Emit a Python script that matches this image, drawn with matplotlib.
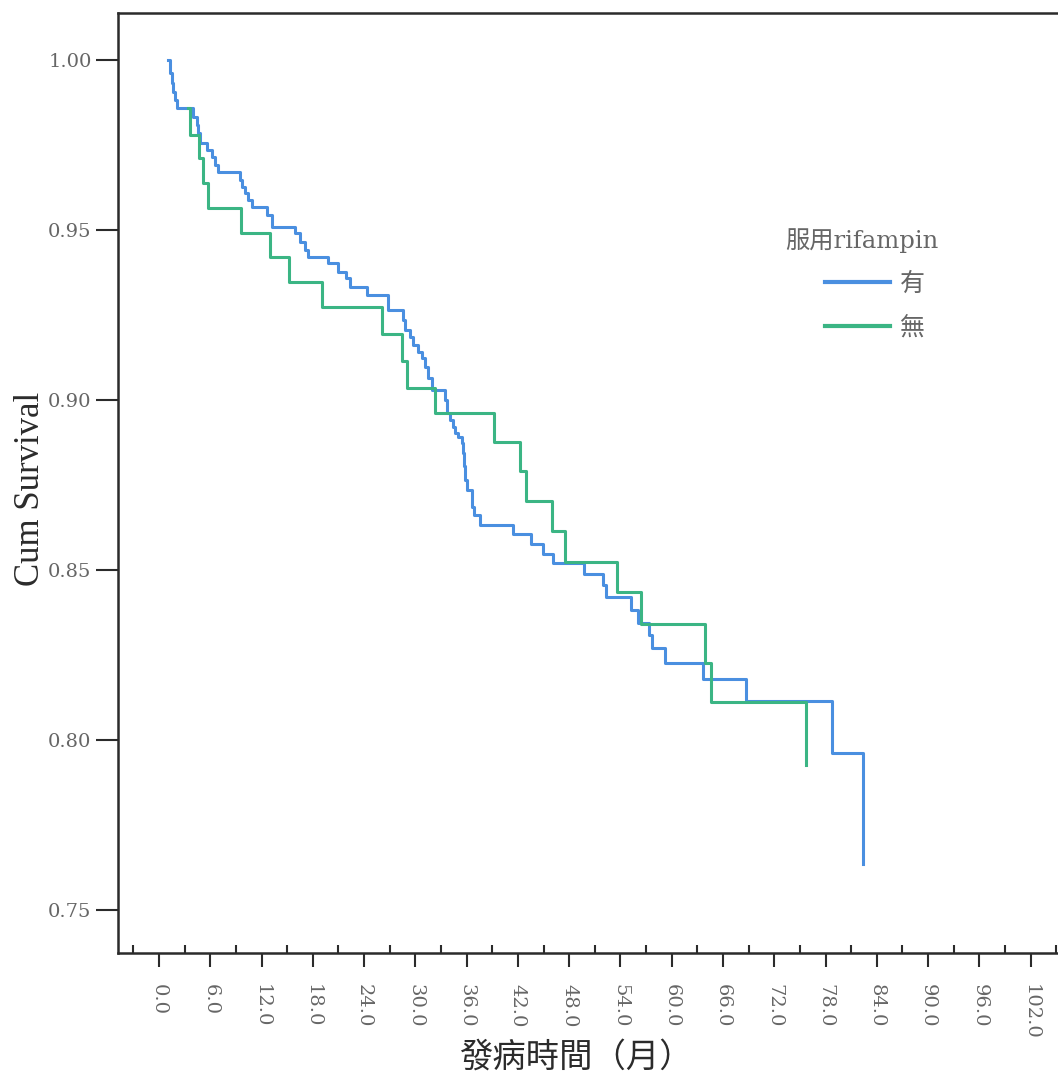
import matplotlib.pyplot as plt
from matplotlib.font_manager import FontProperties

# Kaplan-Meier steps: event time (months) and cumulative survival after the step
rif_yes_t = [1.09, 1.29, 1.49, 1.64, 1.87, 2.11, 4.02, 4.41, 4.60, 4.80, 5.58, 6.17,
             6.56, 6.94, 9.48, 9.68, 10.07, 10.45, 10.85, 12.61, 13.19, 15.92, 16.51,
             17.09, 17.48, 19.82, 20.99, 21.89, 22.36, 24.32, 26.84, 28.60, 28.80,
             29.38, 29.74, 30.36, 30.75, 31.14, 31.53, 31.92, 33.48, 33.68, 34.07,
             34.42, 34.65, 35.04, 35.44, 35.62, 35.71, 35.82, 36.02, 36.61, 36.88,
             37.58, 41.48, 43.51, 44.99, 46.16, 49.75, 52.01, 52.33, 55.22, 56.08,
             57.40, 57.68, 59.24, 63.65, 68.72, 78.75, 82.42]
rif_yes_s = [1.0, 0.9962, 0.9932, 0.9906, 0.9882, 0.9858, 0.9833, 0.9809, 0.9784, 0.9755,
             0.9735, 0.9716, 0.9691, 0.9671, 0.9647, 0.9627, 0.9608, 0.9588, 0.9569,
             0.9544, 0.9510, 0.9490, 0.9466, 0.9441, 0.9421, 0.9402, 0.9377, 0.9359,
             0.9333, 0.9309, 0.9265, 0.9235, 0.9206, 0.9185, 0.9162, 0.9141, 0.9124,
             0.9098, 0.9065, 0.9029, 0.9000, 0.8962, 0.8941, 0.8921, 0.8903, 0.8892,
             0.8874, 0.8844, 0.8806, 0.8765, 0.8735, 0.8686, 0.8662, 0.8632, 0.8606,
             0.8576, 0.8547, 0.8520, 0.8488, 0.8456, 0.8421, 0.8382, 0.8343, 0.8309,
             0.8270, 0.8227, 0.8179, 0.8115, 0.7962, 0.7635]

rif_no_t = [3.40, 3.63, 4.72, 5.19, 5.77, 9.56, 12.99, 15.25, 19.05, 26.07, 28.41, 29.00,
            32.31, 39.25, 42.26, 42.96, 46.04, 47.53, 53.58, 56.43, 63.84, 64.59, 75.74]
rif_no_s = [0.9858, 0.9779, 0.9711, 0.9637, 0.9564, 0.9492, 0.9420, 0.9347, 0.9273,
            0.9193, 0.9115, 0.9034, 0.8961, 0.8877, 0.8792, 0.8704, 0.8616, 0.8524,
            0.8436, 0.8341, 0.8226, 0.8113, 0.7926]

group_labels = ['有', '無']
legend_title = '服用rifampin'
x_label = '發病時間（月）'
y_label = 'Cum Survival'
x_major = list(range(0, 103, 6))
x_minor = list(range(-3, 106, 6))
y_major = [0.75, 0.80, 0.85, 0.90, 0.95, 1.00]

blue = '#4a8fe0'
green = '#3bb584'
ink = '#2b2b2b'
grey = '#666666'
serif = 'Liberation Serif'
wide_serif = 'DejaVu Serif'
cjk = 'Noto Sans CJK TC'

fig = plt.figure(figsize=(10.58, 10.75), dpi=100)
ax = fig.add_axes([118 / 1058, 122 / 1075, 963 / 1058, 940 / 1075])

ax.step(rif_yes_t, rif_yes_s, where='post', color=blue, lw=2.2, label=group_labels[0], zorder=3)
ax.step(rif_no_t, rif_no_s, where='post', color=green, lw=2.2, label=group_labels[1], zorder=4)

ax.set_xlim(-4.8, 107.9)
ax.set_ylim(0.7374, 1.0138)

for side in ['left', 'bottom', 'top']:
    ax.spines[side].set_color(ink)
    ax.spines[side].set_linewidth(1.8)
ax.spines['right'].set_visible(False)

ax.set_xticks(x_major)
ax.set_xticks(x_minor, minor=True)
ax.set_xticklabels([f'{v:.1f}' for v in x_major], rotation=-90,
                   fontfamily=wide_serif, fontsize=14, color=grey)
ax.tick_params(axis='x', which='major', direction='out', length=10, width=1.5,
               color=ink, pad=12)
ax.tick_params(axis='x', which='minor', direction='in', length=6, width=1.5, color=ink)

ax.set_yticks(y_major)
ax.set_yticklabels([f'{v:.2f}' for v in y_major], fontfamily=wide_serif, fontsize=14,
                   color=grey)
ax.tick_params(axis='y', which='major', direction='out', length=16, width=1.5,
               color=ink, pad=3)

ax.set_xlabel(x_label, fontfamily=cjk, fontsize=24, color=ink)
ax.xaxis.set_label_coords(0.475, -0.092)
ax.set_ylabel(y_label, fontfamily=serif, fontsize=25, color=ink)
ax.yaxis.set_label_coords(-0.074, 0.4936)

# legend title set apart from the entries, as SPSS draws it
fig.text(785 / 1058, 1 - 241 / 1075, legend_title, ha='left', va='center', color=grey,
         fontproperties=FontProperties(family=[wide_serif, cjk], size=17.5))

leg = ax.legend(frameon=False, loc='upper left',
                bbox_to_anchor=(825 / 1058, 1 - 271 / 1075), bbox_transform=fig.transFigure,
                prop=FontProperties(family=cjk, size=18),
                handlelength=2.6, handletextpad=0.4, labelspacing=0.7, borderpad=0,
                borderaxespad=0)
for txt in leg.get_texts():
    txt.set_color(grey)
for line in leg.get_lines():
    line.set_linewidth(3)

fig.savefig('out.png', dpi=100)
